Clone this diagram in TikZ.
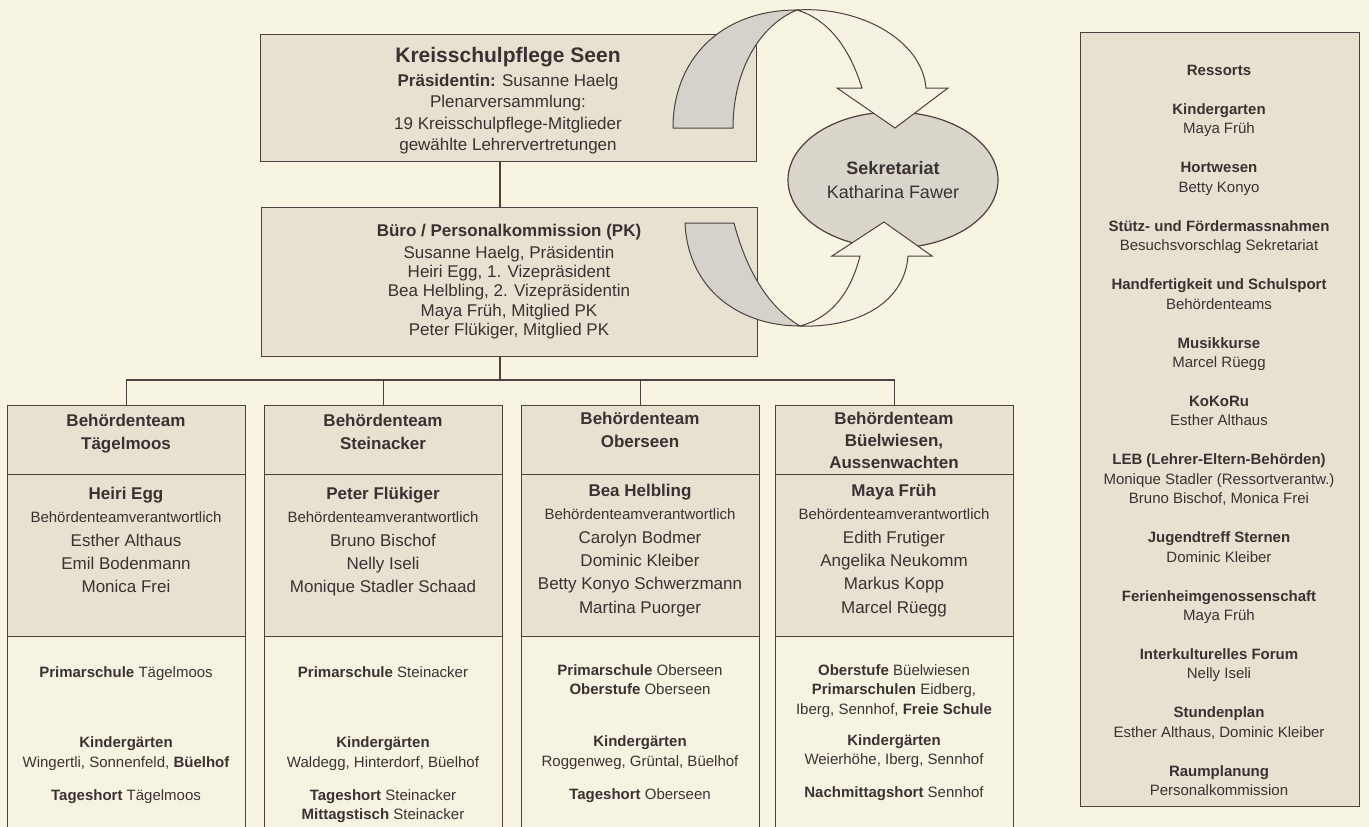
\documentclass[tikz,border=0pt]{standalone}
\usepackage{fontspec}
\setmainfont{Liberation Sans}
\usetikzlibrary{shapes.geometric}
\definecolor{bg}{HTML}{F8F4E2}
\definecolor{boxfill}{HTML}{E7E1D1}
\definecolor{schfill}{HTML}{F7F3E3}
\definecolor{lc}{HTML}{4E4040}
\definecolor{tc}{HTML}{3A3232}
\definecolor{bandgray}{HTML}{D4D2CB}
\definecolor{ellfill}{HTML}{D9D5CA}
\definecolor{arrwhite}{HTML}{F6F2E3}
\newcommand\mystrut{\rule{0pt}{0.95em}}
\newcommand\hdrfont{\fontsize{17}{23}\selectfont\bfseries}
\newcommand\memfont{\fontsize{17}{23.4}\selectfont}
\newcommand\smallfont{\fontsize{15}{23.4}\selectfont}
\newcommand\schfont{\fontsize{15}{19.5}\selectfont}
\begin{document}
\begin{tikzpicture}[x=1pt,y=-1pt,
  sect/.style={draw=lc, line width=1.4pt, fill=boxfill, rectangle, inner sep=0pt, anchor=north west},
  schsect/.style={sect, fill=schfill},
  txt/.style={anchor=north, inner sep=0pt, align=center, text=tc},
  conn/.style={draw=lc, line width=1.4pt},
  band/.style={fill=bandgray, draw=lc, line width=1pt},
  wpart/.style={fill=arrwhite, draw=lc, line width=1pt}]
\useasboundingbox (0,0) rectangle (1369,827);
\fill[bg] (0,0) rectangle (1369,827);
\clip (0,0) rectangle (1369,827);

% top boxes
\node[sect, minimum width=496pt, minimum height=127pt] (top) at (260,34) {};
\node[sect, minimum width=496pt, minimum height=149pt] (pk) at (261,207) {};
\node[txt, font=\fontsize{17}{21.5}\selectfont] (toptext) at (508,42.6)
  {{\fontsize{21}{21.5}\selectfont\bfseries\mystrut Kreisschulpflege Seen}\\[2.1pt]
   \textbf{Präsidentin:} Susanne Haelg\\Plenarversammlung:\\19 Kreisschulpflege-Mitglieder\\gewählte Lehrervertretungen};
\node[txt, font=\fontsize{17}{19.3}\selectfont] (pktext) at (509,220)
  {{\bfseries\mystrut Büro / Personalkommission (PK)}\\[2.7pt]
   Susanne Haelg, Präsidentin\\Heiri Egg, 1. Vizepräsident\\Bea Helbling, 2. Vizepräsidentin\\Maya Früh, Mitglied PK\\Peter Flükiger, Mitglied PK};

% team boxes
\node[sect, minimum width=238pt, minimum height=69pt] (h1) at (7,405) {};
\node[sect, minimum width=238pt, minimum height=162pt] (m1) at (7,474) {};
\node[schsect, minimum width=238pt, minimum height=210pt] (s1) at (7,636) {};
\node[sect, minimum width=238pt, minimum height=69pt] (h2) at (264,405) {};
\node[sect, minimum width=238pt, minimum height=162pt] (m2) at (264,474) {};
\node[schsect, minimum width=238pt, minimum height=210pt] (s2) at (264,636) {};
\node[sect, minimum width=238pt, minimum height=69pt] (h3) at (521,405) {};
\node[sect, minimum width=238pt, minimum height=162pt] (m3) at (521,474) {};
\node[schsect, minimum width=238pt, minimum height=210pt] (s3) at (521,636) {};
\node[sect, minimum width=238pt, minimum height=69pt] (h4) at (775,405) {};
\node[sect, minimum width=238pt, minimum height=162pt] (m4) at (775,474) {};
\node[schsect, minimum width=238pt, minimum height=210pt] (s4) at (775,636) {};

% header texts
\node[txt, font=\hdrfont] (h1t) at (126,410) {\mystrut Behördenteam\\Tägelmoos};
\node[txt, font=\hdrfont] (h2t) at (383,410) {\mystrut Behördenteam\\Steinacker};
\node[txt, font=\hdrfont] (h3t) at (640,408) {\mystrut Behördenteam\\Oberseen};
\node[txt, font=\fontsize{17}{22}\selectfont\bfseries] (h4t) at (894,408) {\mystrut Behördenteam\\Büelwiesen,\\Aussenwachten};

% member texts
\node[txt, font=\memfont] (m1t) at (126,483) {\textbf{\mystrut Heiri Egg}\\{\smallfont Behördenteamverantwortlich}\\Esther Althaus\\Emil Bodenmann\\Monica Frei};
\node[txt, font=\memfont] (m2t) at (383,483) {\textbf{\mystrut Peter Flükiger}\\{\smallfont Behördenteamverantwortlich}\\Bruno Bischof\\Nelly Iseli\\Monique Stadler Schaad};
\node[txt, font=\memfont] (m3t) at (640,480) {\textbf{\mystrut Bea Helbling}\\{\smallfont Behördenteamverantwortlich}\\Carolyn Bodmer\\Dominic Kleiber\\Betty Konyo Schwerzmann\\Martina Puorger};
\node[txt, font=\memfont] (m4t) at (894,480) {\textbf{\mystrut Maya Früh}\\{\smallfont Behördenteamverantwortlich}\\Edith Frutiger\\Angelika Neukomm\\Markus Kopp\\Marcel Rüegg};

% school texts
\node[txt, font=\schfont] (s1t) at (126,663) {\mystrut\textbf{Primarschule} Tägelmoos\\[51pt]\textbf{Kindergärten}\\Wingertli, Sonnenfeld, \textbf{Büelhof}\\[13.5pt]\textbf{Tageshort} Tägelmoos};
\node[txt, font=\schfont] (s2t) at (383,663) {\mystrut\textbf{Primarschule} Steinacker\\[51pt]\textbf{Kindergärten}\\Waldegg, Hinterdorf, Büelhof\\[13.5pt]\textbf{Tageshort} Steinacker\\\textbf{Mittagstisch} Steinacker};
\node[txt, font=\schfont] (s3t) at (640,661) {\mystrut\textbf{Primarschule} Oberseen\\\textbf{Oberstufe} Oberseen\\[32.5pt]\textbf{Kindergärten}\\Roggenweg, Grüntal, Büelhof\\[13.5pt]\textbf{Tageshort} Oberseen};
\node[txt, font=\schfont] (s4t) at (894,661) {\mystrut\textbf{Oberstufe} Büelwiesen\\\textbf{Primarschulen} Eidberg,\\Iberg, Sennhof, \textbf{Freie Schule}\\[11.5pt]\textbf{Kindergärten}\\Weierhöhe, Iberg, Sennhof\\[13.5pt]\textbf{Nachmittagshort} Sennhof};

% connectors
\coordinate (bus) at (500,380);
\draw[conn] (top.south -| bus) -- (pk.north -| bus);
\draw[conn] (pk.south -| bus) -- (bus);
\draw[conn] (h1.north) |- (h4.north |- bus) -- (h4.north);
\draw[conn] (h2.north) -- (h2.north |- bus);
\draw[conn] (h3.north) -- (h3.north |- bus);

% Ressorts
\node[sect, minimum width=279pt, minimum height=774pt] (res) at (1080,32) {};
\node[txt, font=\fontsize{15}{19.4}\selectfont] (restext) at (1219,61)
  {\textbf{\mystrut Ressorts}\\[19.6pt]
   \textbf{Kindergarten}\\Maya Früh\\[19.6pt]
   \textbf{Hortwesen}\\Betty Konyo\\[19.6pt]
   \textbf{Stütz- und Fördermassnahmen}\\Besuchsvorschlag Sekretariat\\[19.6pt]
   \textbf{Handfertigkeit und Schulsport}\\Behördenteams\\[19.6pt]
   \textbf{Musikkurse}\\Marcel Rüegg\\[19.6pt]
   \textbf{KoKoRu}\\Esther Althaus\\[19.6pt]
   \textbf{LEB (Lehrer-Eltern-Behörden)}\\Monique Stadler (Ressortverantw.)\\Bruno Bischof, Monica Frei\\[19.6pt]
   \textbf{Jugendtreff Sternen}\\Dominic Kleiber\\[19.6pt]
   \textbf{Ferienheimgenossenschaft}\\Maya Früh\\[19.6pt]
   \textbf{Interkulturelles Forum}\\Nelly Iseli\\[19.6pt]
   \textbf{Stundenplan}\\Esther Althaus, Dominic Kleiber\\[19.6pt]
   \textbf{Raumplanung}\\Personalkommission};

% Sekretariat
\node[ellipse, draw=lc, line width=1.2pt, fill=ellfill, minimum width=210pt, minimum height=136pt,
  inner sep=0pt, align=center, text=tc, font=\fontsize{18}{24}\selectfont] (sek) at (893,180)
  {\textbf{Sekretariat}\\Katharina Fawer};

% circular arrows
\filldraw[band] (673,128) .. controls (673,60) and (720,10) .. (797,10)
  .. controls (760,25) and (733,70) .. (733,128) -- cycle;
\filldraw[wpart] (797,10) .. controls (860,6) and (922,40) .. (926,88) -- (948,88) -- (895,128)
  -- (837,88) -- (862,88) .. controls (850,50) and (830,20) .. (797,10) -- cycle;
\filldraw[band] (685,223) .. controls (688,290) and (740,326) .. (800,326)
  .. controls (765,305) and (745,265) .. (734,223) -- cycle;
\filldraw[wpart] (800,326) .. controls (862,328) and (905,300) .. (908,256) -- (932,256) -- (884,222)
  -- (832,256) -- (860,256) .. controls (850,295) and (830,318) .. (800,326) -- cycle;
\end{tikzpicture}
\end{document}
